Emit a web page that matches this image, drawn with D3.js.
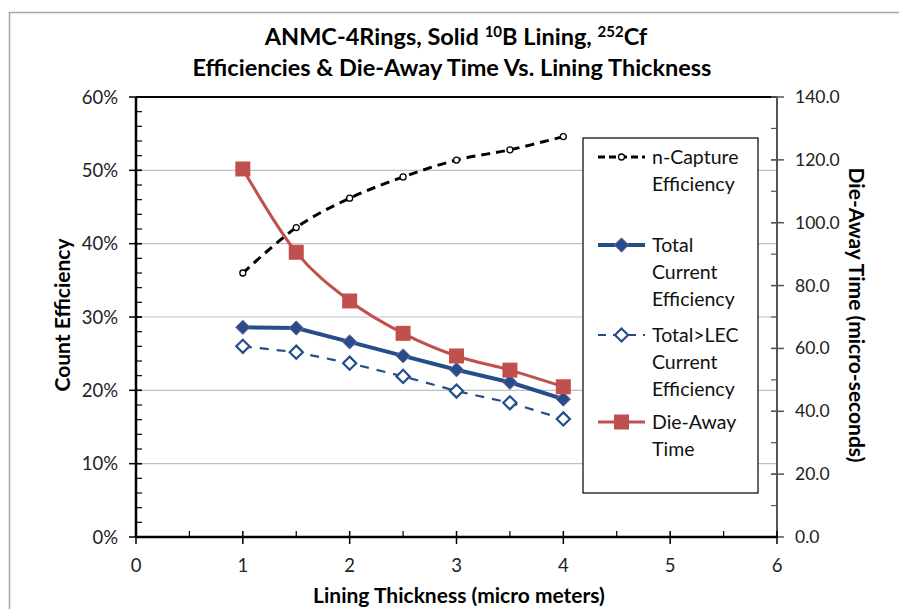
<!DOCTYPE html>
<html>
<head>
<meta charset="utf-8">
<script src="https://cdn.jsdelivr.net/npm/d3@7"></script>
<style>
  html, body { margin: 0; padding: 0; background: #fff; }
  svg { display: block; font-family: Lato, "Open Sans", sans-serif; }
</style>
</head>
<body>
<svg id="chart" width="899" height="609"></svg>
<script>
// Lining thickness (micro meters)
const thickness = [1, 1.5, 2, 2.5, 3, 3.5, 4];
// Efficiencies (fraction)
const nCapture = [0.360, 0.422, 0.462, 0.491, 0.514, 0.528, 0.546];
const totalCurrent = [0.286, 0.285, 0.266, 0.247, 0.228, 0.211, 0.188];
const totalLEC = [0.260, 0.252, 0.237, 0.219, 0.199, 0.183, 0.161];
// Die-away time (micro-seconds), right axis
const dieAway = [117.1, 90.6, 75.1, 64.8, 57.6, 53.1, 47.8];

const xTicks = [0, 1, 2, 3, 4, 5, 6];
const yLeftTicks = [0, 0.1, 0.2, 0.3, 0.4, 0.5, 0.6];
const yRightTicks = [0, 20, 40, 60, 80, 100, 120, 140];

const svg = d3.select("#chart");
const plot = { left: 136, right: 777, top: 97, bottom: 537 };

const x = d3.scaleLinear().domain([0, 6]).range([plot.left, plot.right]);
const yL = d3.scaleLinear().domain([0, 0.6]).range([plot.bottom, plot.top]);
const yR = d3.scaleLinear().domain([0, 140]).range([plot.bottom, plot.top]);

// outer chart frame (top and left edges)
svg.append("path")
  .attr("d", "M9.5,609 L9.5,12.5 L899,12.5")
  .attr("fill", "none").attr("stroke", "#a6a6a6").attr("stroke-width", 1.5);

// title
const title = svg.append("g").attr("font-weight", "bold").attr("font-size", 23.5)
  .attr("text-anchor", "middle").attr("fill", "#000");
const t1 = title.append("text").attr("x", 456).attr("y", 45);
t1.append("tspan").text("ANMC-4Rings, Solid ");
t1.append("tspan").attr("font-size", 15).attr("dy", -8).text("10");
t1.append("tspan").attr("dy", 8).text("B Lining, ");
t1.append("tspan").attr("font-size", 15).attr("dy", -8).text("252");
t1.append("tspan").attr("dy", 8).text("Cf");
title.append("text").attr("x", 452).attr("y", 76)
  .text("Efficiencies & Die-Away Time Vs. Lining Thickness");

// horizontal gridlines
svg.append("g").selectAll("line")
  .data(yLeftTicks.filter(d => d > 0 && d < 0.6))
  .join("line")
  .attr("x1", plot.left).attr("x2", plot.right)
  .attr("y1", d => yL(d)).attr("y2", d => yL(d))
  .attr("stroke", "#c0c0c0").attr("stroke-width", 1.2);

// top border of plot area
svg.append("line")
  .attr("x1", plot.left).attr("x2", plot.right)
  .attr("y1", plot.top).attr("y2", plot.top)
  .attr("stroke", "#000").attr("stroke-width", 2);

// left axis
const gL = svg.append("g").attr("transform", `translate(${plot.left},0)`);
gL.append("g").selectAll("line").data(d3.range(0, 0.601, 0.02))
  .join("line").attr("x1", 0).attr("x2", 6)
  .attr("y1", d => yL(d)).attr("y2", d => yL(d))
  .attr("stroke", "#000").attr("stroke-width", 1.2);
gL.append("g").selectAll("line").data(yLeftTicks)
  .join("line").attr("x1", -7).attr("x2", 6)
  .attr("y1", d => yL(d)).attr("y2", d => yL(d))
  .attr("stroke", "#000").attr("stroke-width", 1.5);
gL.append("line").attr("y1", plot.top).attr("y2", plot.bottom)
  .attr("stroke", "#000").attr("stroke-width", 2.5);
gL.append("g").selectAll("text").data(yLeftTicks)
  .join("text").attr("x", -18).attr("y", d => yL(d) + 6.5)
  .attr("text-anchor", "end").attr("font-size", 18.5).attr("fill", "#222")
  .text(d3.format(".0%"));

// right axis
const gR = svg.append("g").attr("transform", `translate(${plot.right},0)`);
gR.append("g").selectAll("line").data(d3.range(0, 141, 10))
  .join("line").attr("x1", -6).attr("x2", 0)
  .attr("y1", d => yR(d)).attr("y2", d => yR(d))
  .attr("stroke", "#555").attr("stroke-width", 1.2);
gR.append("g").selectAll("line").data(yRightTicks)
  .join("line").attr("x1", -6).attr("x2", 7)
  .attr("y1", d => yR(d)).attr("y2", d => yR(d))
  .attr("stroke", "#555").attr("stroke-width", 1.5);
gR.append("line").attr("y1", plot.top).attr("y2", plot.bottom)
  .attr("stroke", "#555").attr("stroke-width", 2);
gR.append("g").selectAll("text").data(yRightTicks)
  .join("text").attr("x", 18).attr("y", d => yR(d) + 6)
  .attr("text-anchor", "start").attr("font-size", 17.5).attr("fill", "#222")
  .text(d3.format(".1f"));

// bottom axis
const gB = svg.append("g").attr("transform", `translate(0,${plot.bottom})`);
gB.append("g").selectAll("line").data(d3.range(0.5, 6, 1))
  .join("line").attr("y1", -6).attr("y2", 0)
  .attr("x1", d => x(d)).attr("x2", d => x(d))
  .attr("stroke", "#000").attr("stroke-width", 1.2);
gB.append("g").selectAll("line").data(xTicks)
  .join("line").attr("y1", -6).attr("y2", 7)
  .attr("x1", d => x(d)).attr("x2", d => x(d))
  .attr("stroke", "#000").attr("stroke-width", 1.5);
gB.append("line").attr("x1", plot.left).attr("x2", plot.right)
  .attr("stroke", "#000").attr("stroke-width", 2.5);
gB.append("g").selectAll("text").data(xTicks)
  .join("text").attr("x", d => x(d)).attr("y", 35)
  .attr("text-anchor", "middle").attr("font-size", 18.5).attr("fill", "#222")
  .text(d => d);

// axis titles
svg.append("text").attr("x", 459).attr("y", 603)
  .attr("text-anchor", "middle").attr("font-weight", "bold").attr("font-size", 21)
  .text("Lining Thickness (micro meters)");
svg.append("text").attr("transform", "translate(70,315) rotate(-90)")
  .attr("text-anchor", "middle").attr("font-weight", "bold").attr("font-size", 21)
  .text("Count Efficiency");
svg.append("text").attr("transform", "translate(849,315) rotate(90)")
  .attr("text-anchor", "middle").attr("font-weight", "bold").attr("font-size", 21)
  .text("Die-Away Time (micro-seconds)");

// series
const smooth = d3.curveCardinal.tension(0);
const lineL = (vals, curve) => d3.line()
  .x((d, i) => x(thickness[i])).y(d => yL(d)).curve(curve)(vals);
const lineR = d3.line().x((d, i) => x(thickness[i])).y(d => yR(d)).curve(smooth);

const blue = "#264d8a", red = "#c0504d", purple = "#8064a2";
const diamond = d3.symbol().type(d3.symbolDiamond2);
const g = svg.append("g");

// Total>LEC current efficiency
g.append("path").attr("d", lineL(totalLEC, d3.curveLinear))
  .attr("fill", "none").attr("stroke", blue).attr("stroke-width", 2.2)
  .attr("stroke-dasharray", "9,8");
// n-capture
g.append("path").attr("d", lineL(nCapture, smooth))
  .attr("fill", "none").attr("stroke", "#000").attr("stroke-width", 3)
  .attr("stroke-dasharray", "9,6");
// total current
g.append("path").attr("d", lineL(totalCurrent, d3.curveLinear))
  .attr("fill", "none").attr("stroke", blue).attr("stroke-width", 4);
// die-away
g.append("path").attr("d", lineR(dieAway))
  .attr("fill", "none").attr("stroke", red).attr("stroke-width", 3);

g.append("g").selectAll("path").data(totalLEC).join("path")
  .attr("transform", (d, i) => `translate(${x(thickness[i])},${yL(d)})`)
  .attr("d", diamond.size(110)())
  .attr("fill", "#fff").attr("stroke", blue).attr("stroke-width", 2.2);
g.append("g").selectAll("circle").data(nCapture).join("circle")
  .attr("cx", (d, i) => x(thickness[i])).attr("cy", d => yL(d)).attr("r", 3)
  .attr("fill", "#fff").attr("stroke", "#000").attr("stroke-width", 1.3);
g.append("g").selectAll("path").data(totalCurrent).join("path")
  .attr("transform", (d, i) => `translate(${x(thickness[i])},${yL(d)})`)
  .attr("d", diamond.size(130)())
  .attr("fill", blue).attr("stroke", purple).attr("stroke-width", 1);
g.append("g").selectAll("rect").data(dieAway).join("rect")
  .attr("x", (d, i) => x(thickness[i]) - 7.5).attr("y", d => yR(d) - 7.5)
  .attr("width", 15).attr("height", 15).attr("fill", red);

// legend
const lg = svg.append("g");
lg.append("rect").attr("x", 583).attr("y", 138).attr("width", 175).attr("height", 355)
  .attr("fill", "#fff").attr("stroke", "#000").attr("stroke-width", 1.2);
const legendItems = [
  { label: ["n-Capture", "Efficiency"], y: 157 },
  { label: ["Total", "Current", "Efficiency"], y: 245 },
  { label: ["Total>LEC", "Current", "Efficiency"], y: 335 },
  { label: ["Die-Away", "Time"], y: 422 }
];
const lx1 = 598, lx2 = 645, lxm = 621.5;
// n-capture sample
lg.append("line").attr("x1", lx1).attr("x2", lx2).attr("y1", 157).attr("y2", 157)
  .attr("stroke", "#000").attr("stroke-width", 3).attr("stroke-dasharray", "7,4");
lg.append("circle").attr("cx", lxm).attr("cy", 157).attr("r", 3)
  .attr("fill", "#fff").attr("stroke", "#000").attr("stroke-width", 1.3);
// total current sample
lg.append("line").attr("x1", lx1).attr("x2", lx2).attr("y1", 245).attr("y2", 245)
  .attr("stroke", blue).attr("stroke-width", 4);
lg.append("path").attr("transform", `translate(${lxm},245)`).attr("d", diamond.size(130)())
  .attr("fill", blue).attr("stroke", purple).attr("stroke-width", 1);
// total>LEC sample
lg.append("line").attr("x1", lx1).attr("x2", lx2).attr("y1", 335).attr("y2", 335)
  .attr("stroke", blue).attr("stroke-width", 2.2).attr("stroke-dasharray", "8,7");
lg.append("path").attr("transform", `translate(${lxm},335)`).attr("d", diamond.size(110)())
  .attr("fill", "#fff").attr("stroke", blue).attr("stroke-width", 2.2);
// die-away sample
lg.append("line").attr("x1", lx1).attr("x2", lx2).attr("y1", 422).attr("y2", 422)
  .attr("stroke", red).attr("stroke-width", 3);
lg.append("rect").attr("x", lxm - 7.5).attr("y", 414.5).attr("width", 15).attr("height", 15)
  .attr("fill", red);

legendItems.forEach(item => {
  item.label.forEach((s, j) => {
    lg.append("text").attr("x", 652).attr("y", item.y + 7 + j * 27)
      .attr("font-size", 19.5).attr("fill", "#111").text(s);
  });
});
</script>
</body>
</html>
